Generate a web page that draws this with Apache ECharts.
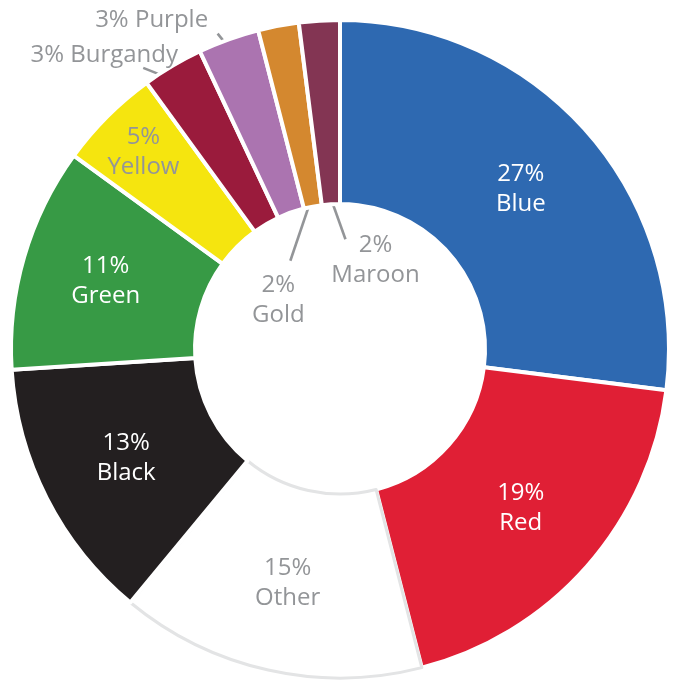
<!DOCTYPE html>
<html><head><meta charset="utf-8">
<script src="https://cdn.jsdelivr.net/npm/echarts@6/dist/echarts.min.js"></script>
<style>html,body{margin:0;padding:0;background:#fff}#c{width:673px;height:680px}</style>
</head><body><div id="c"></div>
<script>
var categories = ['Blue','Red','Other','Black','Green','Yellow','Burgandy','Purple','Gold','Maroon'];
var values = [27,19,15,13,11,5,3,3,2,2];
var colors = ['#2e69b1','#e01f35','#ffffff','#231f20','#379a45','#f5e50f','#9a1b3c','#ab74b0','#d4882f','#833553'];
var labelColors = ['#ffffff','#ffffff','#939598','#ffffff','#ffffff','#939598','#939598','#939598','#939598','#939598'];
var outsideNames = ['Burgandy','Purple','Gold','Maroon'];

var CX = 340, CY = 349, R_IN = 145, R_OUT = 329;
var GRAY = '#939598';
var FONT = '"Open Sans", "Noto Sans", sans-serif';

// radial distance of inside labels from the centre
var insideLabelRadius = {Blue: 241, Red: 241, Other: 240, Black: 240, Green: 244, Yellow: 278};
// small slices: leader line starts at radius r0 on the slice's mid-angle, goes by (ex, ey);
// label centre is offset (lx, ly) from the line end
var outsideCfg = {
  Burgandy: {r0: 308, ex: -40, ey: -16, lx: -39, ly: -13, single: true},
  Purple:   {r0: 314, ex: -16, ey: -20, lx: -66, ly: -13, single: true},
  Gold:     {r0: 153, ex: -21, ey: 62, lx: -12, ly: 39, single: false},
  Maroon:   {r0: 152, ex: 15, ey: 42, lx: 30, ly: 21, single: false}
};

var data = categories.map(function(n, i){
  var isOut = outsideNames.indexOf(n) >= 0;
  return {
    name: n, value: values[i],
    itemStyle: {color: colors[i], borderColor: n === 'Other' ? '#e3e4e5' : '#ffffff', borderWidth: n === 'Other' ? 3 : 4},
    label: {position: isOut ? 'outside' : 'inside', color: labelColors[i]},
    labelLine: {show: isOut, lineStyle: {color: GRAY, width: 2.6}, length: 15, length2: 0}
  };
});

var chart = echarts.init(document.getElementById('c'), null, {renderer: 'canvas'});
chart.setOption({
  animation: false,
  series: [{
    type: 'pie',
    center: [CX, CY],
    radius: [R_IN, R_OUT],
    startAngle: 90,
    clockwise: true,
    avoidLabelOverlap: false,
    data: data,
    label: {
      fontFamily: FONT, fontSize: 24, lineHeight: 30, fontWeight: 'normal',
      formatter: function(p){
        var c = outsideCfg[p.name];
        if (c && c.single) return p.value + '% ' + p.name;
        return p.value + '%\n' + p.name;
      }
    },
    labelLayout: function(p){
      var name = categories[p.dataIndex];
      var c = outsideCfg[name];
      if (!c) {
        var r = p.labelRect;
        var cx = r.x + r.width / 2, cy = r.y + r.height / 2;
        var dx = cx - CX, dy = cy - CY, L = Math.sqrt(dx*dx + dy*dy);
        var rr = insideLabelRadius[name] || 241;
        return {x: CX + dx / L * rr, y: CY + dy / L * rr, align: 'center', verticalAlign: 'middle'};
      }
      if (!p.labelLinePoints) return {};
      var a = p.labelLinePoints[0];
      var ax = a[0] - CX, ay = a[1] - CY;
      var La = Math.sqrt(ax*ax + ay*ay);
      var p0 = [CX + ax / La * c.r0, CY + ay / La * c.r0];
      var p1 = [p0[0] + c.ex, p0[1] + c.ey];
      return {
        x: p1[0] + c.lx, y: p1[1] + c.ly,
        align: 'center', verticalAlign: 'middle',
        labelLinePoints: [p0, p1, p1]
      };
    }
  }]
});
</script>
</body></html>
